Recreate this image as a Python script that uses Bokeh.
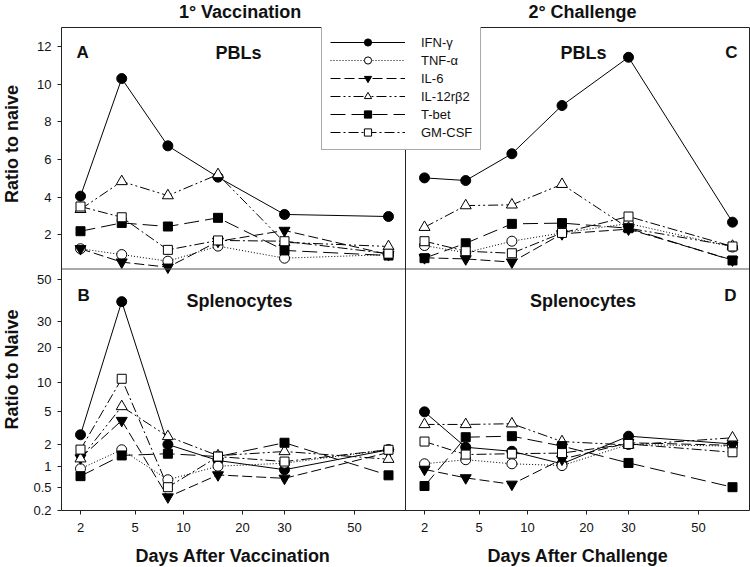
import numpy as np
from bokeh.plotting import figure
from bokeh.layouts import column, row
from bokeh.models import Range1d, FixedTicker, Span, Label, Legend, LegendItem
from bokeh.embed import file_html
from bokeh.resources import INLINE

# ---------------- data ----------------
DAYS = [2, 4, 8, 15, 30, 60]
SERIES = ["IFN-γ", "TNF-α", "IL-6", "IL-12rβ2", "T-bet", "GM-CSF"]

# Panel A: 1° vaccination, PBLs (ratio to naive)
A_IFN   = [4.05, 10.29, 6.72, 5.06, 3.08, 2.97]
A_TNF   = [1.26, 0.95, 0.60, 1.40, 0.76, 0.95]
A_IL6   = [1.26, 0.55, 0.28, 1.65, 2.23, 0.95]
A_IL12  = [3.35, 4.83, 4.08, 5.20, 1.60, 1.38]
A_TBET  = [2.19, 2.63, 2.44, 2.90, 1.17, 0.90]
A_GMCSF = [3.50, 2.93, 1.20, 1.70, 1.66, 1.00]

# Panel C: 2° challenge, PBLs
C_IFN   = [5.02, 4.88, 6.30, 8.86, 11.42, 2.67]
C_TNF   = [1.43, 1.05, 1.66, 2.10, 2.60, 1.35]
C_IL6   = [0.78, 0.72, 0.55, 2.05, 2.30, 0.66]
C_IL12  = [2.40, 3.55, 3.59, 4.68, 2.35, 1.40]
C_TBET  = [0.76, 1.55, 2.58, 2.62, 2.35, 0.64]
C_GMCSF = [1.66, 1.13, 1.02, 2.10, 2.97, 1.38]

# Panel B: 1° vaccination, splenocytes
B_IFN   = [2.62, 38.2, 2.00, 1.20, 0.89, 1.69]
B_TNF   = [0.92, 1.69, 0.64, 1.00, 1.10, 1.70]
B_IL6   = [1.30, 3.89, 0.34, 0.75, 0.67, 1.55]
B_IL12  = [1.27, 5.63, 2.50, 1.40, 1.60, 1.25]
B_TBET  = [0.72, 1.41, 1.49, 1.36, 2.10, 0.74]
B_GMCSF = [1.70, 10.7, 0.50, 1.36, 1.16, 1.69]

# Panel D: 2° challenge, splenocytes
D_IFN   = [4.95, 1.83, 1.61, 1.08, 2.52, 2.03]
D_TNF   = [1.08, 1.23, 1.08, 1.02, 2.00, 1.90]
D_IL6   = [0.90, 0.68, 0.55, 1.25, 2.10, 1.95]
D_IL12  = [3.49, 3.49, 3.56, 2.17, 1.97, 2.41]
D_TBET  = [0.52, 2.45, 2.52, 1.90, 1.11, 0.50]
D_GMCSF = [2.17, 1.45, 1.49, 1.52, 2.03, 1.56]

X_TICKS = [2, 5, 10, 20, 30, 50]
X_TICK_LABELS = ["2", "5", "10", "20", "30", "50"]
TOP_Y_TICKS = [2, 4, 6, 8, 10, 12]
TOP_Y_LABELS = ["2", "4", "6", "8", "10", "12"]
BOT_Y_TICKS = [0.2, 0.5, 1, 2, 5, 10, 20, 30, 50]
BOT_Y_LABELS = ["0.2", "0.5", "1", "2", "5", "10", "20", "30", "50"]

# ---------------- scales (layout) ----------------
FRAME_W, FRAME_H = 688, 483
PANEL_W, PANEL_H = FRAME_W / 2, FRAME_H / 2
X_PAD = 19
X_BREAK_DAYS = [2, 5, 10, 20, 30, 50, 60]
X_BREAK_POS = [0, 54.5, 103, 162, 204, 274, 308]
TOP_LO, TOP_HI = 0.185, 13.0
Y_BREAK_VALS = [0.2, 0.5, 1, 2, 5, 10, 20, 30, 50]
Y_BREAK_POS = [0, 23.3, 44.3, 66, 99, 128.3, 163.3, 189, 231]


def fx(days, col):
    d = np.log10(np.asarray(days, dtype=float))
    return col * PANEL_W + X_PAD + np.interp(d, np.log10(X_BREAK_DAYS), X_BREAK_POS)


def fy(vals, row_):
    v = np.asarray(vals, dtype=float)
    if row_ == 0:
        return PANEL_H + (v - TOP_LO) / (TOP_HI - TOP_LO) * PANEL_H
    return np.interp(np.log10(v), np.log10(Y_BREAK_VALS), Y_BREAK_POS)


STYLES = [
    dict(dash="solid", marker="circle", fill="black", size=10),
    dict(dash="1 2", marker="circle", fill="white", size=10),
    dict(dash="10 4", marker="inverted_triangle", fill="black", size=11),
    dict(dash="10 3 2 3 2 3", marker="triangle", fill="white", size=11),
    dict(dash="15 6", marker="square", fill="black", size=9),
    dict(dash="10 3 2 3", marker="square", fill="white", size=9),
]

PANELS = [
    (0, 0, [A_IFN, A_TNF, A_IL6, A_IL12, A_TBET, A_GMCSF]),
    (1, 0, [C_IFN, C_TNF, C_IL6, C_IL12, C_TBET, C_GMCSF]),
    (0, 1, [B_IFN, B_TNF, B_IL6, B_IL12, B_TBET, B_GMCSF]),
    (1, 1, [D_IFN, D_TNF, D_IL6, D_IL12, D_TBET, D_GMCSF]),
]

FONT = "Liberation Sans"
TXT = "#111111"

HEAD_H, FOOT_H, STRIP_W = 26, 27, 28
MAIN_W, MAIN_H = 750 - STRIP_W, 567 - HEAD_H - FOOT_H

# ---------------- main plot ----------------
p = figure(width=MAIN_W, height=MAIN_H, x_range=Range1d(0, FRAME_W), y_range=Range1d(0, FRAME_H),
           output_backend="svg", toolbar_location=None,
           min_border_left=MAIN_W - FRAME_W - 1, min_border_right=1,
           min_border_top=1, min_border_bottom=MAIN_H - FRAME_H - 1)
p.title.visible = False
p.xgrid.visible = False
p.ygrid.visible = False
p.outline_line_color = "#222222"
p.outline_line_width = 1

xt, xo = [], {}
for col in (0, 1):
    for d, lab in zip(X_TICKS, X_TICK_LABELS):
        pos = float(fx([d], col)[0])
        xt.append(pos)
        xo[pos] = lab
p.xaxis.ticker = FixedTicker(ticks=xt)
p.xaxis.major_label_overrides = xo

yt, yo = [], {}
for v, lab in zip(TOP_Y_TICKS, TOP_Y_LABELS):
    pos = float(fy([v], 0)[0])
    yt.append(pos)
    yo[pos] = lab
for v, lab in zip(BOT_Y_TICKS, BOT_Y_LABELS):
    pos = float(fy([v], 1)[0])
    yt.append(pos)
    yo[pos] = lab
p.yaxis.ticker = FixedTicker(ticks=yt)
p.yaxis.major_label_overrides = yo

for ax in (p.xaxis, p.yaxis):
    ax.axis_line_color = None
    ax.major_tick_line_color = "#222222"
    ax.major_tick_out = 4
    ax.major_tick_in = 0
    ax.minor_tick_line_color = None
    ax.major_label_text_font = FONT
    ax.major_label_text_font_size = "13px"
    ax.major_label_text_color = TXT
p.xaxis.major_label_standoff = 8
p.yaxis.major_label_standoff = 6

p.add_layout(Span(location=PANEL_H, dimension="width", line_color="#555555", line_width=1))
p.add_layout(Span(location=PANEL_W, dimension="height", line_color="#222222", line_width=1))

line_r, mark_r = {}, {}
for col, row_, arrs in PANELS:
    for i, vals in enumerate(arrs):
        st = STYLES[i]
        r = p.line(fx(DAYS, col), fy(vals, row_), line_color="black", line_width=1, line_dash=st["dash"])
        line_r.setdefault(i, r)
for col, row_, arrs in PANELS:
    for i, vals in enumerate(arrs):
        st = STYLES[i]
        r = p.scatter(fx(DAYS, col), fy(vals, row_), marker=st["marker"], size=st["size"],
                      fill_color=st["fill"], line_color="black", line_width=1)
        mark_r.setdefault(i, r)

items = [LegendItem(label=SERIES[i], renderers=[line_r[i], mark_r[i]]) for i in range(6)]
legend = Legend(items=items, location=(260, 360), orientation="vertical",
                padding=8, spacing=0, glyph_width=75, glyph_height=18, label_height=18,
                label_standoff=16, margin=0)
legend.label_text_font = FONT
legend.label_text_font_size = "13px"
legend.label_text_color = TXT
legend.border_line_color = "#555555"
legend.border_line_width = 1
legend.background_fill_color = "white"
legend.background_fill_alpha = 1.0
p.add_layout(legend)


def add_text(fig, x, y, text, size="18px", align="center", angle=0.0):
    # y is the vertical centre of the capital letters
    fig.add_layout(Label(x=x, y=y, text=text, text_font=FONT, text_font_size=size,
                         text_font_style="bold", text_align=align, text_baseline="middle",
                         angle=angle, text_color=TXT))


add_text(p, 15, 458, "A", size="17px", align="left")
add_text(p, 177, 457.5, "PBLs")
add_text(p, 676, 458, "C", size="17px", align="right")
add_text(p, 522, 457.5, "PBLs")
add_text(p, 16, 215, "B", size="17px", align="left")
add_text(p, 178, 210, "Splenocytes")
add_text(p, 675, 215, "D", size="17px", align="right")
add_text(p, 521.5, 210, "Splenocytes")


# ---------------- text strips (frame = whole canvas, 1 unit = 1 px) ----------------
def strip(w, h):
    f = figure(width=w, height=h, x_range=Range1d(0, w), y_range=Range1d(0, h),
               x_axis_type=None, y_axis_type=None, output_backend="svg", toolbar_location=None,
               min_border=0, min_border_left=0, min_border_right=0, min_border_top=0, min_border_bottom=0)
    f.title.visible = False
    f.xgrid.visible = False
    f.ygrid.visible = False
    f.outline_line_color = None
    return f


head = strip(750, HEAD_H)
add_text(head, 239.5, HEAD_H - 11, "1° Vaccination")
add_text(head, 582, HEAD_H - 11, "2° Challenge")

left = strip(STRIP_W, MAIN_H)
add_text(left, 11.5, 540 - 150, "Ratio to naive", angle=np.pi / 2)
add_text(left, 11.5, 540 - 390, "Ratio to Naive", angle=np.pi / 2)

foot = strip(750, FOOT_H)
add_text(foot, 232.5, 567 - 555.5, "Days After Vaccination")
add_text(foot, 577.5, 567 - 555.5, "Days After Challenge")

layout = column(head, row(left, p, spacing=0), foot, spacing=0)
open("out.html", "w").write(file_html(layout, INLINE))
